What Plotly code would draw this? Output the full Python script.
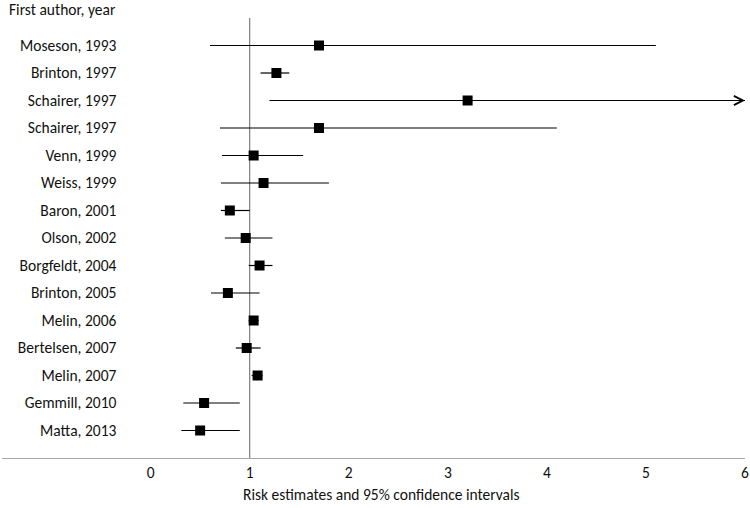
import plotly.graph_objects as go

# studies, top to bottom
authors = [
    "Moseson, 1993", "Brinton, 1997", "Schairer, 1997", "Schairer, 1997",
    "Venn, 1999", "Weiss, 1999", "Baron, 2001", "Olson, 2002",
    "Borgfeldt, 2004", "Brinton, 2005", "Melin, 2006", "Bertelsen, 2007",
    "Melin, 2007", "Gemmill, 2010", "Matta, 2013",
]
estimate = [1.70, 1.27, 3.20, 1.70, 1.04, 1.14, 0.80, 0.96, 1.10, 0.78, 1.04, 0.97, 1.08, 0.54, 0.50]
lower = [0.60, 1.11, 1.20, 0.70, 0.72, 0.71, 0.71, 0.75, 0.99, 0.61, 0.99, 0.86, 1.02, 0.33, 0.31]
upper = [5.10, 1.40, 6.00, 4.10, 1.54, 1.80, 1.00, 1.23, 1.23, 1.10, 1.09, 1.11, 1.13, 0.90, 0.90]
truncated = [False, False, True] + [False] * 12  # upper CI runs off the axis

x_ticks = [0, 1, 2, 3, 4, 5, 6]
x_range = [-1.5, 6]
null_value = 1

FONT = "Carlito, Calibri, Lato, sans-serif"
TEXT = "#111"
n = len(authors)
rows = list(range(n, 0, -1))

fig = go.Figure()
fig.add_trace(
    go.Scatter(
        x=estimate,
        y=rows,
        mode="markers",
        marker={"symbol": "square", "size": 10, "color": "black"},
        error_x={
            "type": "data",
            "symmetric": False,
            "array": [u - e for u, e in zip(upper, estimate)],
            "arrayminus": [e - l for e, l in zip(estimate, lower)],
            "color": "black",
            "thickness": 1.2,
            "width": 0,
        },
        showlegend=False,
        cliponaxis=False,
    )
)

# open arrowheads for truncated intervals
for r, u, t in zip(rows, upper, truncated):
    if t:
        fig.add_annotation(
            x=u, y=r, ax=u - 0.5, ay=r, xref="x", yref="y", axref="x", ayref="y",
            text="", showarrow=True, arrowhead=5, arrowsize=1.5, arrowwidth=1.2,
            arrowcolor="black",
        )

fig.add_shape(
    type="line", x0=null_value, x1=null_value, y0=0, y1=n + 1,
    xref="x", yref="y", line={"color": "#7f7f7f", "width": 1.2}, layer="below",
)

fig.add_annotation(
    text="First author, year", xref="paper", yref="paper", x=0.0067, y=1.02,
    xanchor="left", yanchor="middle", showarrow=False,
    font={"family": FONT, "size": 15.5, "color": TEXT},
)
fig.add_annotation(
    text="Risk estimates and 95% confidence intervals", xref="paper", yref="paper",
    x=0.511, y=-0.082, xanchor="center", yanchor="middle", showarrow=False,
    font={"family": FONT, "size": 15.5, "color": TEXT},
)

fig.update_xaxes(
    range=x_range, tickvals=x_ticks, showgrid=False, zeroline=False,
    showline=True, linecolor="#a6a6a6", linewidth=1.3, ticks="", automargin=False,
    tickfont={"family": FONT, "size": 15.5, "color": TEXT},
)
fig.update_yaxes(
    range=[0, n + 1], tickvals=rows, ticktext=authors, anchor="free", position=0.154,
    showgrid=False, zeroline=False, showline=False, ticks="", automargin=False,
    tickfont={"family": FONT, "size": 15.5, "color": TEXT},
)
fig.update_layout(
    width=750, height=508,
    margin={"l": 2, "r": 5, "t": 18, "b": 50},
    plot_bgcolor="white", paper_bgcolor="white",
)

# page body has a default 8px margin; drop it so the figure sits at the corner
fig.write_html(
    "out.html",
    config={"displayModeBar": False},
    post_script="document.body.style.margin = '0';",
)
